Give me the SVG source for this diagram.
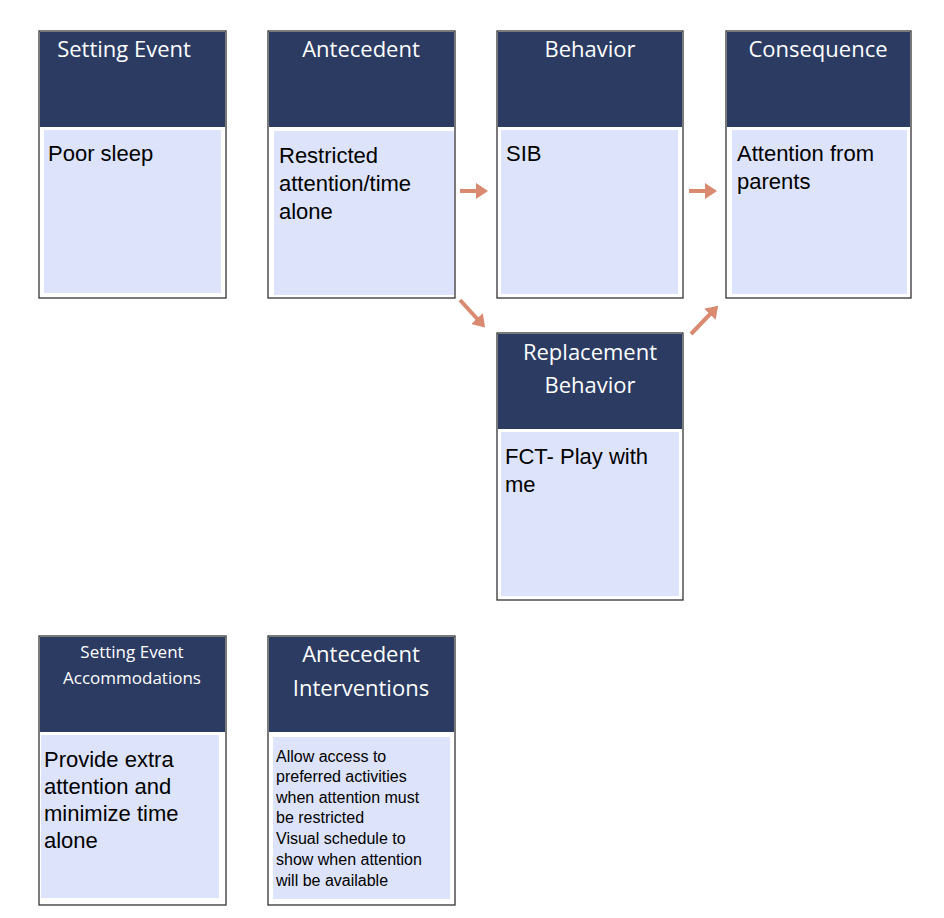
<svg xmlns="http://www.w3.org/2000/svg" width="944" height="918" viewBox="0 0 944 918">
<style>
.frame{fill:#fff;stroke:#333;stroke-width:1.3}
.head{fill:#2b3b62}
.body{fill:#dde3fb}
.ht{font-family:"Open Sans","DejaVu Sans",sans-serif;font-size:22px;fill:#fff;text-anchor:middle}
.bt{font-family:"Liberation Sans",Arial,sans-serif;font-size:22px;fill:#000}
.st{font-family:"Liberation Sans",Arial,sans-serif;font-size:16px;fill:#000}
.arr{stroke:#d98a70;stroke-width:4;fill:none;marker-end:url(#ah)}
</style>
<defs>
<marker id="ah" markerWidth="4" markerHeight="4" refX="1.5" refY="2" orient="auto" markerUnits="strokeWidth">
<path d="M0,0 L3,2 L0,4 Z" fill="#d98a70"/>
</marker>
</defs>
<rect width="944" height="918" fill="#fff"/>
<g id="setting-event">
<rect class="frame" x="39" y="31" width="187" height="267"/>
<rect class="head" x="40" y="32" width="185" height="95"/>
<rect class="body" x="44" y="130" width="177" height="163"/>
<text class="ht" x="124" y="57">Setting Event</text>
<text class="bt" x="48" y="161">Poor sleep</text>
</g>
<g id="antecedent">
<rect class="frame" x="268" y="31" width="187" height="267"/>
<rect class="head" x="269" y="32" width="185" height="95"/>
<rect class="body" x="274" y="131" width="180" height="164"/>
<text class="ht" x="361" y="57">Antecedent</text>
<text class="bt" x="279" y="163">Restricted</text>
<text class="bt" x="279" y="191">attention/time</text>
<text class="bt" x="279" y="219">alone</text>
</g>
<g id="behavior">
<rect class="frame" x="497" y="31" width="186" height="267"/>
<rect class="head" x="498" y="32" width="184" height="95"/>
<rect class="body" x="501" y="130" width="177" height="164"/>
<text class="ht" x="590" y="57">Behavior</text>
<text class="bt" x="506" y="161">SIB</text>
</g>
<g id="consequence">
<rect class="frame" x="726" y="31" width="185" height="267"/>
<rect class="head" x="727" y="32" width="183" height="95"/>
<rect class="body" x="732" y="130" width="175" height="164"/>
<text class="ht" x="818" y="57">Consequence</text>
<text class="bt" x="737" y="161">Attention from</text>
<text class="bt" x="737" y="189">parents</text>
</g>
<g id="replacement-behavior">
<rect class="frame" x="497" y="333" width="186" height="267"/>
<rect class="head" x="498" y="334" width="184" height="95"/>
<rect class="body" x="501" y="432" width="178" height="164"/>
<text class="ht" x="590" y="360">Replacement</text>
<text class="ht" x="590" y="393">Behavior</text>
<text class="bt" x="505" y="464">FCT- Play with</text>
<text class="bt" x="505" y="492">me</text>
</g>
<g id="setting-event-accommodations">
<rect class="frame" x="39" y="636" width="187" height="269"/>
<rect class="head" x="40" y="637" width="185" height="95"/>
<rect class="body" x="41" y="735" width="178" height="163"/>
<text class="ht" x="132" y="658" style="font-size:17px">Setting Event</text>
<text class="ht" x="132" y="684" style="font-size:17px">Accommodations</text>
<text class="bt" x="44" y="767">Provide extra</text>
<text class="bt" x="44" y="794">attention and</text>
<text class="bt" x="44" y="821">minimize time</text>
<text class="bt" x="44" y="848">alone</text>
</g>
<g id="antecedent-interventions">
<rect class="frame" x="268" y="636" width="187" height="269"/>
<rect class="head" x="269" y="637" width="185" height="95"/>
<rect class="body" x="273" y="737" width="177" height="162"/>
<text class="ht" x="361" y="662">Antecedent</text>
<text class="ht" x="361" y="696">Interventions</text>
<text class="st" x="276" y="762">Allow access to</text>
<text class="st" x="276" y="782">preferred activities</text>
<text class="st" x="276" y="803">when attention must</text>
<text class="st" x="276" y="823">be restricted</text>
<text class="st" x="276" y="844">Visual schedule to</text>
<text class="st" x="276" y="865">show when attention</text>
<text class="st" x="276" y="886">will be available</text>
</g>
<g id="connectors">
<line class="arr" x1="460" y1="191" x2="482" y2="191"/>
<line class="arr" x1="689" y1="191" x2="711" y2="191"/>
<line class="arr" x1="460" y1="300" x2="481" y2="323"/>
<line class="arr" x1="691" y1="334" x2="714" y2="310"/>
</g>
</svg>
